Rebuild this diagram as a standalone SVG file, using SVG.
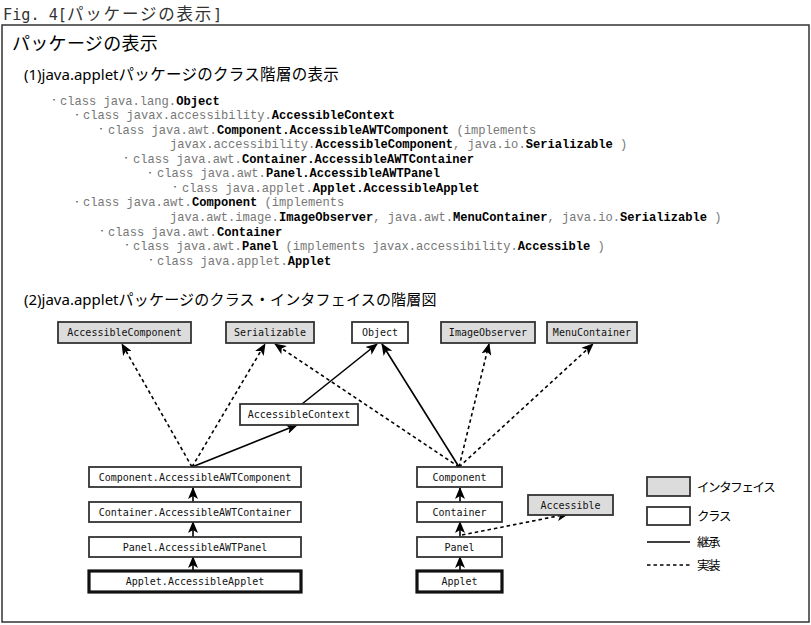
<svg xmlns="http://www.w3.org/2000/svg" width="811" height="625" viewBox="0 0 811 625">
<style>
.title{font-family:"DejaVu Sans Mono","Noto Sans CJK JP",monospace;font-size:15.2px;fill:#333}
.title .j{font-family:"Noto Sans CJK JP",sans-serif;font-size:16.5px;letter-spacing:1.8px}
.h1{font-family:"Noto Sans CJK JP",sans-serif;font-size:18px;fill:#000;letter-spacing:0.3px}
.h2{font-family:"Noto Sans","Noto Sans CJK JP",sans-serif;font-size:15px;fill:#000}
.h2 .j{font-family:"Noto Sans CJK JP",sans-serif}
.ls{font-family:"Liberation Mono",monospace;font-size:12.1px;fill:#777}
.ls .b{font-weight:bold;fill:#000}
.bul{font-family:"Noto Sans CJK JP",sans-serif;font-size:8px;fill:#555;text-anchor:middle}
.box{stroke:#333;stroke-width:1.8}
.cls{fill:#fff}
.ifc{fill:#dcdcdc}
.thick{stroke-width:3.2;stroke:#111}
.bt{font-family:"DejaVu Sans Mono",monospace;font-size:10px;fill:#111;text-anchor:middle}
.lg{font-family:"Noto Sans CJK JP",sans-serif;font-size:12.5px;fill:#000;letter-spacing:-1.4px}
.inh{stroke:#000;stroke-width:1.6;fill:none}
.imp{stroke:#000;stroke-width:1.6;fill:none;stroke-dasharray:3.5 3}
</style>
<defs>
<marker id="ah" markerWidth="12" markerHeight="10" refX="11" refY="5" orient="auto" markerUnits="userSpaceOnUse">
<path d="M0,0 L12,5 L0,10 L3,5 z" fill="#000"/>
</marker>
</defs>
<rect width="811" height="625" fill="#fff"/>
<text class="title" x="3" y="19.5">Fig. 4[<tspan class="j">パッケージの表示</tspan>]</text>
<rect x="2" y="25" width="807" height="597" fill="none" stroke="#333" stroke-width="1.5"/>
<text class="h1" x="12" y="50">パッケージの表示</text>
<text class="h2" x="24" y="80">(1)java.applet<tspan class="j" style="font-size:15.5px;letter-spacing:0.3px">パッケージのクラス階層の表示</tspan></text>

<g id="class-list">
<text class="bul" x="54" y="103">・</text>
<text class="ls" x="60" y="104.5" xml:space="preserve">class java.lang.<tspan class="b">Object</tspan></text>
<text class="bul" x="77" y="117.5">・</text>
<text class="ls" x="83" y="119" xml:space="preserve">class javax.accessibility.<tspan class="b">AccessibleContext</tspan></text>
<text class="bul" x="101" y="132">・</text>
<text class="ls" x="108" y="133.6" xml:space="preserve">class java.awt.<tspan class="b">Component.AccessibleAWTComponent</tspan> (implements</text>
<text class="ls" x="170" y="148.2" xml:space="preserve">javax.accessibility.<tspan class="b">AccessibleComponent</tspan>, java.io.<tspan class="b">Serializable</tspan> )</text>
<text class="bul" x="126" y="161">・</text>
<text class="ls" x="133" y="162.7" xml:space="preserve">class java.awt.<tspan class="b">Container.AccessibleAWTContainer</tspan></text>
<text class="bul" x="150" y="175.5">・</text>
<text class="ls" x="157" y="177.3" xml:space="preserve">class java.awt.<tspan class="b">Panel.AccessibleAWTPanel</tspan></text>
<text class="bul" x="175" y="190">・</text>
<text class="ls" x="182" y="191.8" xml:space="preserve">class java.applet.<tspan class="b">Applet.AccessibleApplet</tspan></text>
<text class="bul" x="77" y="204.5">・</text>
<text class="ls" x="83" y="206.4" xml:space="preserve">class java.awt.<tspan class="b">Component</tspan> (implements</text>
<text class="ls" x="170" y="221" xml:space="preserve">java.awt.image.<tspan class="b">ImageObserver</tspan>, java.awt.<tspan class="b">MenuContainer</tspan>, java.io.<tspan class="b">Serializable</tspan> )</text>
<text class="bul" x="102" y="233.5">・</text>
<text class="ls" x="108" y="235.5" xml:space="preserve">class java.awt.<tspan class="b">Container</tspan></text>
<text class="bul" x="127" y="248">・</text>
<text class="ls" x="133" y="250" xml:space="preserve">class java.awt.<tspan class="b">Panel</tspan> (implements javax.accessibility.<tspan class="b">Accessible</tspan> )</text>
<text class="bul" x="151" y="262.5">・</text>
<text class="ls" x="157" y="264.6" xml:space="preserve">class java.applet.<tspan class="b">Applet</tspan></text>
</g>

<text class="h2" x="24" y="305">(2)java.applet<tspan class="j" style="letter-spacing:0.2px">パッケージのクラス・インタフェイスの階層図</tspan></text>

<g id="connectors">
<line class="imp" x1="192" y1="467" x2="122" y2="344" marker-end="url(#ah)"/>
<line class="imp" x1="192" y1="467" x2="265" y2="344" marker-end="url(#ah)"/>
<line class="inh" x1="192" y1="467" x2="297" y2="425" marker-end="url(#ah)"/>
<line class="inh" x1="302" y1="404" x2="377" y2="344" marker-end="url(#ah)"/>
<line class="inh" x1="459" y1="467" x2="382" y2="344" marker-end="url(#ah)"/>
<line class="imp" x1="459" y1="467" x2="275" y2="344" marker-end="url(#ah)"/>
<line class="imp" x1="459" y1="467" x2="489" y2="344" marker-end="url(#ah)"/>
<line class="imp" x1="459" y1="467" x2="593" y2="344" marker-end="url(#ah)"/>
<line class="inh" x1="193" y1="502" x2="193" y2="488" marker-end="url(#ah)"/>
<line class="inh" x1="193" y1="537" x2="193" y2="522" marker-end="url(#ah)"/>
<line class="inh" x1="193" y1="571" x2="193" y2="557" marker-end="url(#ah)"/>
<line class="inh" x1="460" y1="502" x2="460" y2="488" marker-end="url(#ah)"/>
<line class="inh" x1="460" y1="537" x2="460" y2="522" marker-end="url(#ah)"/>
<line class="inh" x1="460" y1="572" x2="460" y2="557" marker-end="url(#ah)"/>
<line class="imp" x1="462" y1="535" x2="568" y2="514" marker-end="url(#ah)"/>
</g>

<g id="n-AccessibleComponent"><rect class="box ifc" x="58" y="322" width="133" height="21"/><text class="bt" x="124.5" y="336">AccessibleComponent</text></g>
<g id="n-Serializable"><rect class="box ifc" x="226" y="322" width="88" height="21"/><text class="bt" x="270" y="336">Serializable</text></g>
<g id="n-Object"><rect class="box cls" x="352" y="322" width="56" height="21"/><text class="bt" x="380" y="336">Object</text></g>
<g id="n-ImageObserver"><rect class="box ifc" x="441" y="322" width="94" height="21"/><text class="bt" x="488" y="336">ImageObserver</text></g>
<g id="n-MenuContainer"><rect class="box ifc" x="547" y="322" width="90" height="21"/><text class="bt" x="592" y="336">MenuContainer</text></g>
<g id="n-AccessibleContext"><rect class="box cls" x="240" y="404" width="118" height="21"/><text class="bt" x="299" y="418">AccessibleContext</text></g>
<g id="n-AccessibleAWTComponent"><rect class="box cls" x="89" y="467" width="212" height="20"/><text class="bt" x="195" y="480.5">Component.AccessibleAWTComponent</text></g>
<g id="n-AccessibleAWTContainer"><rect class="box cls" x="89" y="502" width="212" height="20"/><text class="bt" x="195" y="515.5">Container.AccessibleAWTContainer</text></g>
<g id="n-AccessibleAWTPanel"><rect class="box cls" x="89" y="537" width="212" height="20"/><text class="bt" x="195" y="550.5">Panel.AccessibleAWTPanel</text></g>
<g id="n-AccessibleApplet"><rect class="box cls thick" x="89" y="571" width="212" height="21"/><text class="bt" x="195" y="585">Applet.AccessibleApplet</text></g>
<g id="n-Component"><rect class="box cls" x="417" y="467" width="85" height="20"/><text class="bt" x="459.5" y="480.5">Component</text></g>
<g id="n-Container"><rect class="box cls" x="417" y="502" width="85" height="20"/><text class="bt" x="459.5" y="515.5">Container</text></g>
<g id="n-Panel"><rect class="box cls" x="417" y="537" width="85" height="20"/><text class="bt" x="459.5" y="550.5">Panel</text></g>
<g id="n-Applet"><rect class="box cls thick" x="417" y="571" width="85" height="21"/><text class="bt" x="459.5" y="585">Applet</text></g>
<g id="n-Accessible"><rect class="box ifc" x="528" y="495" width="85" height="20"/><text class="bt" x="570.5" y="508.5">Accessible</text></g>

<g id="legend">
<rect class="box ifc" x="647" y="477" width="43" height="19"/>
<text class="lg" x="697" y="492">インタフェイス</text>
<rect class="box cls" x="647" y="507" width="43" height="18"/>
<text class="lg" x="697" y="521">クラス</text>
<line class="inh" x1="647" y1="542" x2="690" y2="542"/>
<text class="lg" x="697" y="546.5">継承</text>
<line class="imp" x1="647" y1="565" x2="690" y2="565"/>
<text class="lg" x="697" y="570">実装</text>
</g>
</svg>
